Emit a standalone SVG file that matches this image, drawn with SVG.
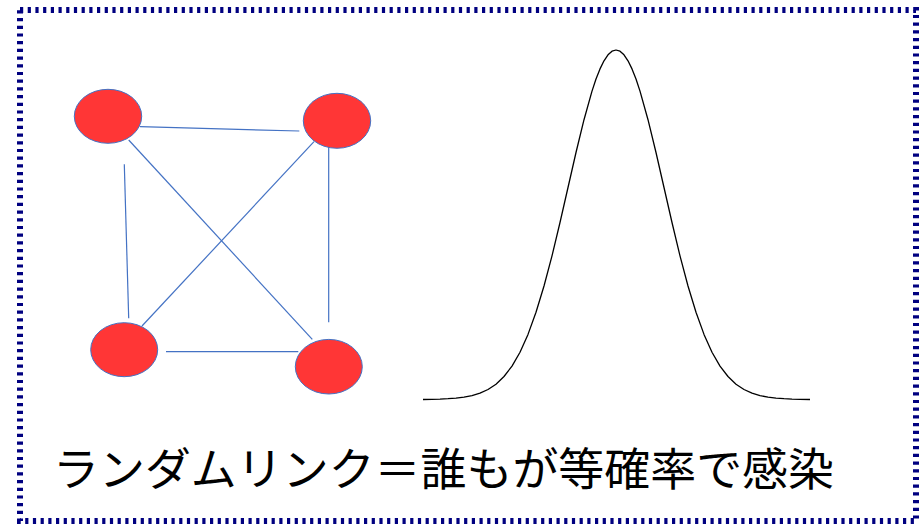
<svg xmlns="http://www.w3.org/2000/svg" width="921" height="525" viewBox="0 0 921 525">
<style>
.frame{fill:none;stroke:#000080;stroke-width:6;stroke-dasharray:3.2 4.5}
.node{fill:#FF3636;stroke:#4472C4;stroke-width:1}
.link{stroke:#4472C4;stroke-width:1.2;fill:none}
.curve{fill:none;stroke:#000;stroke-width:1.3;stroke-linejoin:round}
.label{font-family:"Noto Sans CJK JP","Noto Sans",sans-serif;font-size:45px;fill:#000}
</style>
<rect width="921" height="525" fill="#fff"/>
<rect class="frame" x="20" y="10" width="896" height="511"/>
<g id="connectors">
<line class="link" x1="140" y1="126.7" x2="299.3" y2="131"/>
<line class="link" x1="124.3" y1="164.3" x2="128.7" y2="318.3"/>
<line class="link" x1="128.7" y1="140" x2="312.3" y2="339.3"/>
<line class="link" x1="314" y1="141.7" x2="142" y2="326"/>
<line class="link" x1="328.7" y1="146.7" x2="328.7" y2="322.3"/>
<line class="link" x1="166" y1="351.7" x2="298.3" y2="351.7"/>
</g>
<g id="node-a"><ellipse class="node" cx="108" cy="116.3" rx="33.7" ry="27"/></g>
<g id="node-b"><ellipse class="node" cx="337" cy="120.8" rx="33.7" ry="27.5"/></g>
<g id="node-c"><ellipse class="node" cx="124.2" cy="349.7" rx="33.5" ry="27"/></g>
<g id="node-d"><ellipse class="node" cx="328.8" cy="366.7" rx="33.5" ry="27.3"/></g>
<g id="bell-curve">
<polyline class="curve" points="423,399.5 432,399.3 440,399.1 448,398.7 456,398.1 464,397.2 472,395.6 480,393.2 488,389.5 496,384.2 504,376.5 512,366.1 520,352.2 528,334.4 536,312.3 544,286 552,255.8 560,222.5 568,187.5 576,152.5 584,119.7 592,91.1 596,79 600,68.9 604,60.8 608,54.8 612,51.2 616,50 620,51.2 624,54.8 628,60.8 632,68.9 636,79 640,91.1 648,119.7 656,152.5 664,187.5 672,222.5 680,255.8 688,286 696,312.3 704,334.4 712,352.2 720,366.1 728,376.5 736,384.2 744,389.5 752,393.2 760,395.6 768,397.2 776,398.1 784,398.7 792,399.1 800,399.3 810,399.5"/>
</g>
<g id="caption">
<text class="label" x="53" y="486" textLength="781" lengthAdjust="spacingAndGlyphs">ランダムリンク＝誰もが等確率で感染</text>
</g>
</svg>
